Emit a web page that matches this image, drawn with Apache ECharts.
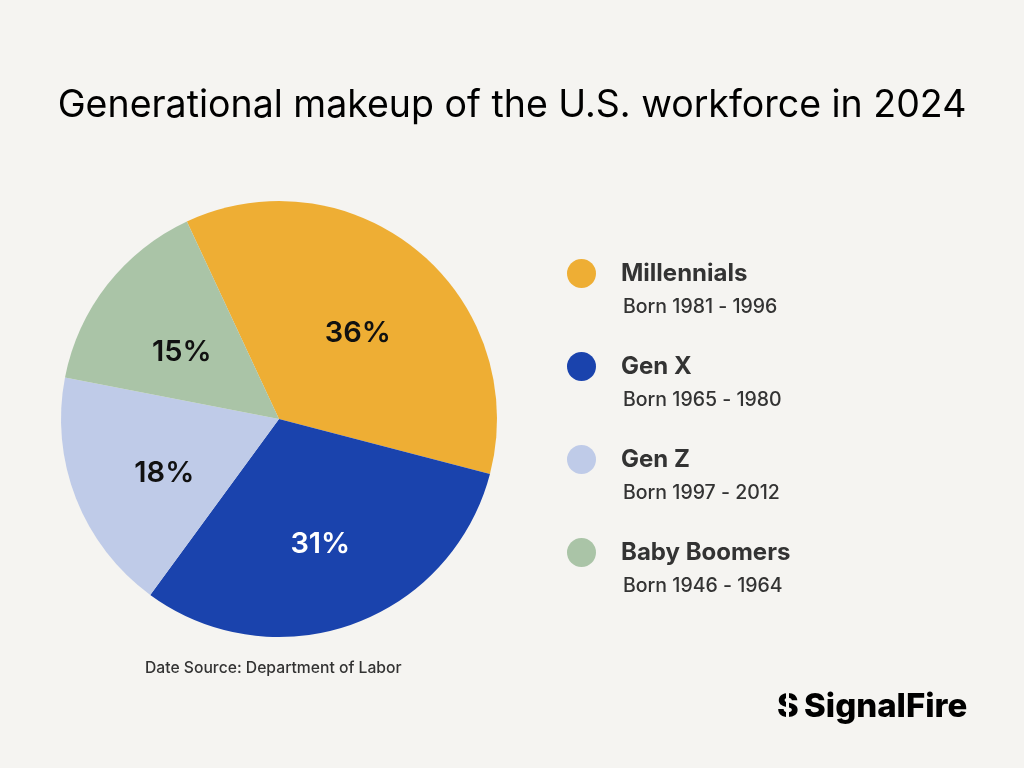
<!DOCTYPE html>
<html lang="en">
<head>
    <meta charset="UTF-8">
    <title>Generational makeup of the U.S. workforce in 2024</title>
    <script src="https://cdn.jsdelivr.net/npm/echarts@6/dist/echarts.min.js"></script>
    <style>
        html, body { margin: 0; padding: 0; background: #f5f4f1; }
        #main { width: 1024px; height: 768px; }
    </style>
</head>
<body>
    <div id="main"></div>
    <script>
        // data
        var generations = ['Millennials', 'Gen X', 'Gen Z', 'Baby Boomers'];
        var shares = [36, 31, 18, 15];
        var bornRanges = ['Born 1981 - 1996', 'Born 1965 - 1980', 'Born 1997 - 2012', 'Born 1946 - 1964'];
        var colors = ['#eeae34', '#1a43ad', '#bfcbe8', '#aac4a7'];
        var labelColors = ['#111', '#fff', '#111', '#111'];

        var FONT = 'Inter, "Noto Sans", sans-serif';
        var chart = echarts.init(document.getElementById('main'));

        var pieCenter = [279, 419];

        var pieData = [];
        for (var i = 0; i < generations.length; i++) {
            pieData.push({
                name: generations[i],
                value: shares[i],
                itemStyle: { color: colors[i] },
                label: { color: labelColors[i] }
            });
        }

        // sub lines under each legend name
        var subTexts = [];
        for (var j = 0; j < bornRanges.length; j++) {
            subTexts.push({
                type: 'text',
                left: 623,
                top: 297 + j * 93,
                style: { text: bornRanges[j], font: '500 19.5px ' + FONT, fill: '#333' }
            });
        }

        var option = {
            backgroundColor: '#f5f4f1',
            animation: false,
            title: {
                text: 'Generational makeup of the U.S. workforce in 2024',
                left: 'center',
                top: 82,
                textStyle: { fontFamily: FONT, fontSize: 37.5, fontWeight: 400, color: '#000' }
            },
            legend: {
                orient: 'vertical',
                left: 562,
                top: 254,
                icon: 'circle',
                itemWidth: 29,
                itemHeight: 29,
                itemGap: 64,
                selectedMode: false,
                data: generations,
                textStyle: {
                    fontFamily: FONT, fontSize: 24, fontWeight: 700, color: '#333',
                    padding: [0, 0, 0, 20]
                }
            },
            graphic: subTexts.concat([
                {
                    type: 'text',
                    left: 145,
                    top: 660,
                    style: { text: 'Date Source: Department of Labor', font: '500 15.7px ' + FONT, fill: '#333' }
                },
                {
                    type: 'text',
                    left: 777,
                    top: 691,
                    style: { text: 'S', font: '800 33px ' + FONT, fill: '#000' }
                },
                {
                    type: 'rect',
                    shape: { x: 786, y: 690, width: 3, height: 36 },
                    style: { fill: '#f5f4f1' }
                },
                {
                    type: 'text',
                    left: 804,
                    top: 691,
                    style: { text: 'SignalFire', font: '800 33px ' + FONT, fill: '#000' }
                }
            ]),
            series: [{
                type: 'pie',
                center: pieCenter,
                radius: [0, 218],
                startAngle: 115,
                clockwise: true,
                legendHoverLink: false,
                itemStyle: { borderWidth: 0 },
                label: {
                    show: true,
                    position: 'inside',
                    formatter: '{c}%',
                    fontFamily: FONT,
                    fontSize: 29,
                    fontWeight: 600
                },
                // push the inside labels a little further out and down
                labelLayout: function (params) {
                    var r = params.labelRect;
                    var cx = r.x + r.width / 2, cy = r.y + r.height / 2;
                    return {
                        dx: (cx - pieCenter[0]) * 0.1,
                        dy: (cy - pieCenter[1]) * 0.1 + 9
                    };
                },
                labelLine: { show: false },
                data: pieData
            }]
        };

        chart.setOption(option);
    </script>
</body>
</html>
